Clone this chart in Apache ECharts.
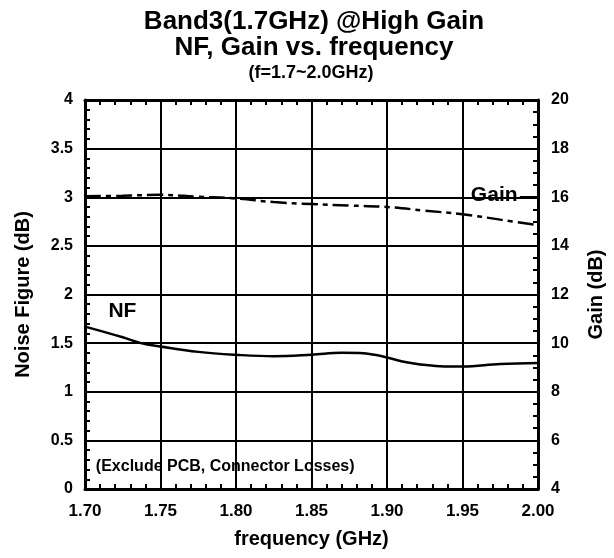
<!DOCTYPE html>
<html>
<head>
<meta charset="utf-8">
<script src="https://cdn.jsdelivr.net/npm/echarts@6/dist/echarts.min.js"></script>
<style>
  html, body { margin: 0; padding: 0; background: #fff; }
  #chart { width: 614px; height: 558px; }
</style>
</head>
<body>
<div id="chart"></div>
<script>
// NF curve (left axis, dB)
const nfFreq = [1.700, 1.725, 1.737, 1.750, 1.775, 1.800, 1.825, 1.850, 1.870, 1.882, 1.892, 1.902, 1.912, 1.922, 1.935, 1.950, 1.975, 2.000];
const nfValues = [1.67, 1.56, 1.50, 1.465, 1.41, 1.38, 1.365, 1.38, 1.40, 1.398, 1.38, 1.345, 1.305, 1.28, 1.263, 1.26, 1.285, 1.295];

// Gain curve (right axis, dB)
const gainFreq = [1.700, 1.725, 1.750, 1.775, 1.800, 1.825, 1.850, 1.875, 1.900, 1.925, 1.950, 1.975, 2.000];
const gainValues = [16.04, 16.06, 16.10, 16.02, 15.95, 15.80, 15.72, 15.66, 15.60, 15.45, 15.30, 15.08, 14.85];

const titleLines = ['Band3(1.7GHz) @High Gain', 'NF, Gain vs. frequency', '(f=1.7~2.0GHz)'];

const FONT = '"Liberation Sans", Arial, sans-serif';

let chartDom = document.getElementById('chart');
let myChart = echarts.init(chartDom);

const minor = (n) => ({
    show: true,
    splitNumber: n,
    length: 5,
    lineStyle: { color: '#000', width: 2 }
});

let option = {
    animation: false,
    backgroundColor: '#fff',
    textStyle: { fontFamily: FONT, color: '#000' },
    graphic: [
        { type: 'text', x: 314, y: 22, style: { text: titleLines[0], font: 'bold 26px ' + FONT, fill: '#000', textAlign: 'center', textVerticalAlign: 'middle' } },
        { type: 'text', x: 314, y: 48, style: { text: titleLines[1], font: 'bold 26px ' + FONT, fill: '#000', textAlign: 'center', textVerticalAlign: 'middle' } },
        { type: 'text', x: 311, y: 73, style: { text: titleLines[2], font: 'bold 18px ' + FONT, fill: '#000', textAlign: 'center', textVerticalAlign: 'middle' } }
    ],
    grid: { left: 85, right: 74, top: 100, bottom: 69 },
    xAxis: [{
        type: 'value',
        min: 1.7, max: 2.0, interval: 0.05,
        name: 'frequency (GHz)',
        nameLocation: 'middle',
        nameGap: 40,
        nameTextStyle: { fontSize: 20, fontWeight: 'bold', color: '#000' },
        axisLine: { show: true, lineStyle: { color: '#000', width: 3 } },
        axisTick: { show: false, inside: true },
        minorTick: minor(5),
        axisLabel: { fontSize: 17, fontWeight: 'bold', color: '#000', margin: 14, formatter: v => v.toFixed(2) },
        splitLine: { show: true, lineStyle: { color: '#000', width: 2 } }
    }, {
        type: 'value',
        position: 'top',
        min: 1.7, max: 2.0, interval: 0.05,
        axisLine: { show: true, lineStyle: { color: '#000', width: 3 } },
        axisTick: { show: false, inside: true },
        minorTick: minor(5),
        axisLabel: { show: false },
        splitLine: { show: false }
    }],
    yAxis: [{
        type: 'value',
        min: 0, max: 4, interval: 0.5,
        name: 'Noise Figure (dB)',
        nameLocation: 'middle',
        nameGap: 52,
        nameRotate: 90,
        nameTextStyle: { fontSize: 20, fontWeight: 'bold', color: '#000' },
        axisLine: { show: true, lineStyle: { color: '#000', width: 3 } },
        axisTick: { show: false, inside: true },
        minorTick: minor(5),
        axisLabel: { fontSize: 16, fontWeight: 'bold', color: '#000', margin: 12 },
        splitLine: { show: true, lineStyle: { color: '#000', width: 2 } }
    }, {
        type: 'value',
        position: 'right',
        min: 4, max: 20, interval: 2,
        name: 'Gain (dB)',
        nameLocation: 'middle',
        nameGap: 48,
        nameRotate: 90,
        nameTextStyle: { fontSize: 20, fontWeight: 'bold', color: '#000' },
        axisLine: { show: true, lineStyle: { color: '#000', width: 3 } },
        axisTick: { show: false, inside: true },
        minorTick: minor(4),
        axisLabel: { fontSize: 16, fontWeight: 'bold', color: '#000', margin: 13 },
        splitLine: { show: false }
    }],
    series: [{
        name: 'NF',
        type: 'line',
        xAxisIndex: 0,
        yAxisIndex: 0,
        data: nfFreq.map((f, i) => [f, nfValues[i]]),
        smooth: 0.4,
        showSymbol: false,
        lineStyle: { color: '#000', width: 2.5 },
        markPoint: {
            symbol: 'rect',
            symbolSize: 1,
            itemStyle: { color: 'rgba(0,0,0,0)' },
            label: { show: true, color: '#000', fontWeight: 'bold' },
            data: [
                { coord: [1.7248, 1.826], label: { formatter: 'NF', fontSize: 21, position: 'inside' } },
                { coord: [1.7072, 0.234], label: { formatter: '(Exclude PCB, Connector Losses)', fontSize: 16, position: 'inside', align: 'left' } }
            ]
        }
    }, {
        name: 'Gain',
        type: 'line',
        xAxisIndex: 0,
        yAxisIndex: 1,
        data: gainFreq.map((f, i) => [f, gainValues[i]]),
        smooth: 0.4,
        showSymbol: false,
        lineStyle: { color: '#000', width: 2.5, type: [16, 5, 5, 5] },
        markPoint: {
            symbol: 'rect',
            symbolSize: 1,
            itemStyle: { color: 'rgba(0,0,0,0)' },
            label: { show: true, color: '#000', fontWeight: 'bold', fontSize: 21, position: 'inside' },
            data: [{ coord: [1.971, 16.1], label: { formatter: 'Gain' } }]
        },
        markLine: {
            silent: true,
            symbol: 'none',
            label: { show: false },
            lineStyle: { color: '#000', width: 2, type: 'solid' },
            data: [[{ coord: [1.988, 16.01] }, { coord: [2.0, 16.01] }]]
        }
    }]
};
option && myChart.setOption(option);
</script>
</body>
</html>
